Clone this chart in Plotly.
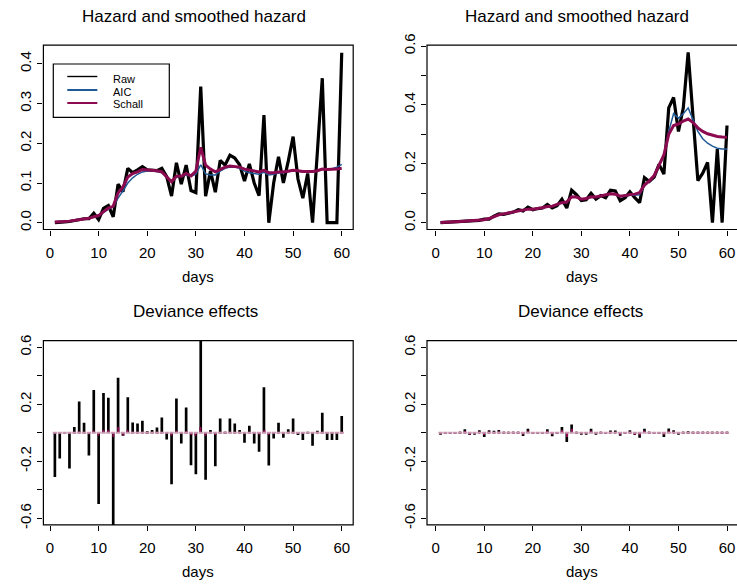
import plotly.graph_objects as go

W, H = 737, 586

# ---------------- data ----------------
days = list(range(1, 61))
x_tick_vals = [0, 10, 20, 30, 40, 50, 60]
x_tick_text = ["0", "10", "20", "30", "40", "50", "60"]

raw1 = [0.000, 0.002, 0.002, 0.003, 0.006, 0.009, 0.010, 0.010, 0.024, 0.008,
        0.036, 0.043, 0.015, 0.097, 0.078, 0.137, 0.126, 0.133, 0.141, 0.133,
        0.133, 0.131, 0.137, 0.116, 0.067, 0.151, 0.097, 0.145, 0.081, 0.076,
        0.343, 0.067, 0.130, 0.077, 0.157, 0.145, 0.170, 0.163, 0.146, 0.105,
        0.148, 0.100, 0.068, 0.271, 0.000, 0.100, 0.166, 0.100, 0.155, 0.217,
        0.110, 0.062, 0.124, 0.000, 0.180, 0.364, 0.000, 0.000, 0.000, 0.428]
aic1 = [0.002, 0.002, 0.003, 0.004, 0.006, 0.008, 0.010, 0.011, 0.014, 0.017,
        0.026, 0.034, 0.040, 0.062, 0.080, 0.100, 0.113, 0.122, 0.128, 0.130,
        0.130, 0.129, 0.126, 0.115, 0.105, 0.115, 0.117, 0.120, 0.117, 0.122,
        0.146, 0.123, 0.120, 0.120, 0.130, 0.137, 0.140, 0.140, 0.137, 0.130,
        0.126, 0.124, 0.122, 0.127, 0.120, 0.122, 0.125, 0.126, 0.128, 0.131,
        0.130, 0.128, 0.128, 0.128, 0.131, 0.136, 0.135, 0.136, 0.140, 0.147]
schall1 = [0.002, 0.002, 0.003, 0.004, 0.006, 0.008, 0.010, 0.011, 0.015, 0.018,
           0.028, 0.037, 0.042, 0.075, 0.090, 0.115, 0.124, 0.128, 0.134, 0.133,
           0.132, 0.131, 0.128, 0.115, 0.103, 0.117, 0.117, 0.124, 0.118, 0.130,
           0.190, 0.145, 0.135, 0.128, 0.135, 0.140, 0.143, 0.142, 0.140, 0.135,
           0.133, 0.131, 0.128, 0.132, 0.126, 0.126, 0.128, 0.128, 0.130, 0.132,
           0.131, 0.129, 0.129, 0.129, 0.131, 0.135, 0.134, 0.134, 0.135, 0.137]

raw2 = [0.000, 0.001, 0.002, 0.003, 0.004, 0.005, 0.006, 0.006, 0.008, 0.012,
        0.012, 0.022, 0.030, 0.028, 0.032, 0.036, 0.044, 0.040, 0.053, 0.044,
        0.048, 0.050, 0.062, 0.050, 0.058, 0.080, 0.050, 0.110, 0.095, 0.075,
        0.078, 0.100, 0.080, 0.092, 0.085, 0.110, 0.108, 0.075, 0.085, 0.105,
        0.085, 0.068, 0.153, 0.140, 0.155, 0.198, 0.165, 0.390, 0.425, 0.310,
        0.390, 0.578, 0.360, 0.143, 0.168, 0.205, 0.000, 0.250, 0.000, 0.330]
aic2 = [0.001, 0.001, 0.002, 0.003, 0.004, 0.005, 0.006, 0.007, 0.008, 0.010,
        0.014, 0.020, 0.027, 0.030, 0.033, 0.037, 0.041, 0.043, 0.046, 0.046,
        0.048, 0.051, 0.055, 0.056, 0.062, 0.068, 0.070, 0.088, 0.087, 0.080,
        0.082, 0.088, 0.087, 0.090, 0.093, 0.098, 0.097, 0.088, 0.090, 0.093,
        0.093, 0.095, 0.125, 0.140, 0.158, 0.195, 0.230, 0.310, 0.370, 0.355,
        0.370, 0.390, 0.350, 0.310, 0.285, 0.270, 0.260, 0.253, 0.250, 0.250]
schall2 = [0.001, 0.001, 0.002, 0.003, 0.004, 0.005, 0.006, 0.007, 0.008, 0.010,
           0.014, 0.020, 0.027, 0.030, 0.033, 0.037, 0.041, 0.043, 0.046, 0.046,
           0.048, 0.051, 0.055, 0.056, 0.062, 0.068, 0.070, 0.088, 0.087, 0.080,
           0.082, 0.088, 0.087, 0.090, 0.093, 0.098, 0.097, 0.090, 0.092, 0.096,
           0.097, 0.102, 0.128, 0.142, 0.160, 0.195, 0.230, 0.300, 0.330, 0.335,
           0.345, 0.352, 0.340, 0.322, 0.310, 0.302, 0.297, 0.293, 0.291, 0.290]

dev1_black = [-0.31, -0.18, 0.00, -0.25, 0.04, 0.22, 0.07, -0.16, 0.30, -0.50,
              0.28, 0.245, -0.75, 0.386, -0.02, 0.25, 0.073, 0.065, 0.084, 0.01,
              0.02, 0.037, 0.107, -0.047, -0.36, 0.24, -0.075, 0.178, -0.227, -0.29,
              0.80, -0.33, 0.02, -0.234, 0.10, 0.007, 0.10, 0.065, 0.02, -0.07,
              0.05, -0.075, -0.133, 0.32, -0.23, -0.04, 0.07, -0.035, 0.025, 0.10,
              -0.016, -0.05, 0.005, -0.09, 0.014, 0.14, -0.05, -0.05, -0.05, 0.117]
dev1_maroon = [-0.005, -0.004, -0.003, -0.005, 0.004, 0.010, 0.006, -0.010, 0.015, -0.020,
               0.020, 0.020, -0.030, 0.040, -0.020, 0.020, 0.006, 0.005, 0.006, 0.002,
               0.002, 0.003, 0.008, -0.004, -0.020, 0.015, -0.006, 0.012, -0.015, -0.020,
               0.040, -0.020, 0.002, -0.015, 0.006, 0.001, 0.006, 0.004, 0.001, -0.004,
               0.003, -0.005, -0.008, 0.020, -0.015, -0.003, 0.004, -0.002, 0.002, 0.006,
               -0.001, -0.003, 0.000, -0.005, 0.001, 0.008, -0.003, -0.003, -0.003, 0.006]

dev2_black = [-0.008, -0.004, -0.005, -0.004, 0.008, 0.025, -0.015, -0.012, 0.018, -0.030,
              0.018, 0.015, 0.020, 0.004, 0.003, 0.001, 0.002, -0.022, 0.028, -0.004,
              -0.004, -0.004, 0.025, -0.025, -0.006, 0.040, -0.065, 0.058, 0.008, -0.010,
              -0.012, 0.028, -0.012, 0.004, -0.005, 0.016, 0.016, -0.020, -0.004, 0.018,
              -0.015, -0.034, 0.028, 0.003, -0.003, -0.006, -0.030, 0.030, 0.018, -0.008,
              0.002, 0.010, 0.002, 0.001, 0.002, 0.001, 0.001, 0.001, 0.001, 0.001]
dev2_maroon = [-0.004, -0.002, -0.003, -0.002, 0.004, 0.012, -0.007, -0.006, 0.009, -0.015,
               0.009, 0.008, 0.010, 0.002, 0.002, 0.001, 0.001, -0.011, 0.014, -0.002,
               -0.002, -0.002, 0.012, -0.012, -0.003, 0.020, -0.030, 0.028, 0.004, -0.005,
               -0.006, 0.014, -0.006, 0.002, -0.003, 0.008, 0.008, -0.010, -0.002, 0.009,
               -0.007, -0.017, 0.014, 0.002, -0.002, -0.003, -0.015, 0.015, 0.009, -0.004,
               0.001, 0.005, 0.001, 0.001, 0.001, 0.001, 0.001, 0.001, 0.001, 0.001]

hazard_y_vals1 = [0.0, 0.1, 0.2, 0.3, 0.4]
hazard_y_text1 = ["0.0", "0.1", "0.2", "0.3", "0.4"]
hazard_y_vals2 = [0.0, 0.1, 0.2, 0.3, 0.4, 0.5, 0.6]
hazard_y_text2 = ["0.0", "", "0.2", "", "0.4", "", "0.6"]
dev_y_vals = [-0.6, -0.4, -0.2, 0.0, 0.2, 0.4, 0.6]
dev_y_text = ["-0.6", "", "-0.2", "", "0.2", "", "0.6"]

title_top = "Hazard and smoothed hazard"
title_bottom = "Deviance effects"
x_label = "days"
legend_names = ["Raw", "AIC", "Schall"]

BLACK = "#000000"
BLUE = "#1f5a96"
MAROON = "#8b0a50"
FONT = "Liberation Sans, Arial, Helvetica, sans-serif"


def fx(p):
    return p / W


def fy(p):
    return 1 - p / H


panels = [
    dict(l=43.4, r=353.2, t=45.2, b=229.5, xr=[-1.36, 62.36], yr=[-0.0171, 0.4471]),
    dict(l=427.0, r=738.5, t=45.2, b=229.5, xr=[-1.79, 62.06], yr=[-0.0231, 0.6027]),
    dict(l=43.4, r=353.2, t=340.7, b=524.9, xr=[-1.36, 62.36], yr=[-0.646, 0.646]),
    dict(l=427.0, r=738.5, t=340.7, b=524.9, xr=[-1.79, 62.06], yr=[-0.646, 0.646]),
]
ytick_sets = [(hazard_y_vals1, hazard_y_text1), (hazard_y_vals2, hazard_y_text2),
              (dev_y_vals, dev_y_text), (dev_y_vals, dev_y_text)]

fig = go.Figure()

layout = dict(
    width=W, height=H,
    margin=dict(l=0, r=0, t=0, b=0, pad=0, autoexpand=False),
    paper_bgcolor="white", plot_bgcolor="white",
    showlegend=False,
    barmode="overlay",
    font=dict(family=FONT, color=BLACK, size=15),
)

shapes = []
annotations = []
for i, p in enumerate(panels):
    n = "" if i == 0 else str(i + 1)
    right_px = min(p["r"], W)
    layout["xaxis" + n] = dict(
        domain=[fx(p["l"]), fx(right_px)], range=p["xr"], anchor="y" + n,
        tickvals=x_tick_vals, ticktext=x_tick_text, ticks="outside", ticklen=5,
        tickwidth=1, tickcolor=BLACK, showline=False, showgrid=False, zeroline=False,
        tickfont=dict(size=15, family=FONT, color=BLACK), ticklabelstandoff=4,
        automargin=False, fixedrange=True,
    )
    tv, tt = ytick_sets[i]
    layout["yaxis" + n] = dict(
        domain=[fy(p["b"]), fy(p["t"])], range=p["yr"], anchor="x" + n,
        tickvals=tv, ticktext=tt, ticks="outside", ticklen=5, tickwidth=1,
        tickcolor=BLACK, showline=False, showgrid=False, zeroline=False,
        tickangle=-90, tickfont=dict(size=15, family=FONT, color=BLACK),
        automargin=False, fixedrange=True,
    )
    shapes.append(dict(type="rect", xref="paper", yref="paper",
                       x0=fx(p["l"]), x1=fx(p["r"]), y0=fy(p["b"]), y1=fy(p["t"]),
                       line=dict(color=BLACK, width=1.2), fillcolor="rgba(0,0,0,0)",
                       layer="above"))

title_specs = [(title_top, 194, 16.5), (title_top, 577, 16.5),
               (title_bottom, 195, 311.3), (title_bottom, 580, 311.3)]
for txt, xp, yp in title_specs:
    annotations.append(dict(text=txt, x=fx(xp), y=fy(yp), xref="paper", yref="paper",
                            xanchor="center", yanchor="middle", showarrow=False,
                            font=dict(size=17, family=FONT, color=BLACK)))
for xp, yp in [(198, 276), (582, 276), (198, 571.5), (582, 571.5)]:
    annotations.append(dict(text=x_label, x=fx(xp), y=fy(yp), xref="paper", yref="paper",
                            xanchor="center", yanchor="middle", showarrow=False,
                            font=dict(size=15, family=FONT, color=BLACK)))

for (raw, aic, sch), n in [((raw1, aic1, schall1), ""), ((raw2, aic2, schall2), "2")]:
    fig.add_trace(go.Scatter(x=days, y=raw, mode="lines", xaxis="x" + n, yaxis="y" + n,
                             line=dict(color=BLACK, width=3.2), name=legend_names[0]))
    fig.add_trace(go.Scatter(x=days, y=aic, mode="lines", xaxis="x" + n, yaxis="y" + n,
                             line=dict(color=BLUE, width=1.5), name=legend_names[1]))
    fig.add_trace(go.Scatter(x=days, y=sch, mode="lines", xaxis="x" + n, yaxis="y" + n,
                             line=dict(color=MAROON, width=3), name=legend_names[2]))

for (blk, mar), n in [((dev1_black, dev1_maroon), "3"), ((dev2_black, dev2_maroon), "4")]:
    fig.add_trace(go.Scatter(x=days, y=[0] * len(days), mode="markers",
                             xaxis="x" + n, yaxis="y" + n, cliponaxis=True,
                             marker=dict(symbol="line-ew", size=3,
                                         line=dict(color="#c796ae", width=2))))
    fig.add_trace(go.Bar(x=days, y=blk, width=0.55, xaxis="x" + n, yaxis="y" + n,
                         marker=dict(color=BLACK, line=dict(width=0))))
    fig.add_trace(go.Bar(x=days, y=mar, width=0.2, xaxis="x" + n, yaxis="y" + n,
                         marker=dict(color=MAROON, line=dict(width=0))))

shapes.append(dict(type="rect", xref="paper", yref="paper",
                   x0=fx(53.3), x1=fx(169.3), y0=fy(117.3), y1=fy(64),
                   line=dict(color=BLACK, width=1.2), fillcolor="white", layer="above"))
leg_items = [(legend_names[0], BLACK, 1.4, 76.5, 79), (legend_names[1], BLUE, 2, 90, 91.5),
             (legend_names[2], MAROON, 2, 103, 104.3)]
for name, col, wd, ly, ty in leg_items:
    shapes.append(dict(type="line", xref="paper", yref="paper",
                       x0=fx(67.3), x1=fx(97.3), y0=fy(ly), y1=fy(ly),
                       line=dict(color=col, width=wd), layer="above"))
    annotations.append(dict(text=name, x=fx(111.2), y=fy(ty), xref="paper", yref="paper",
                            xanchor="left", yanchor="middle", showarrow=False,
                            font=dict(size=11, family=FONT, color=BLACK)))

layout["shapes"] = shapes
layout["annotations"] = annotations
fig.update_layout(**layout)

fig.write_html("out.html")
